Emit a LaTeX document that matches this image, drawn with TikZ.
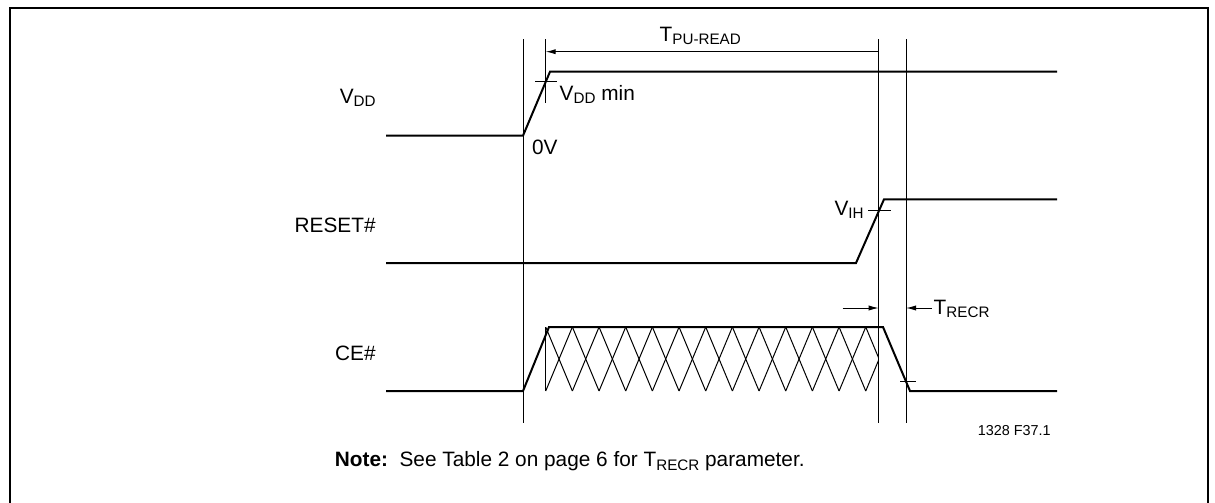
\documentclass[tikz,border=0pt]{standalone}
\usepackage{fontspec}
\setmainfont{Liberation Sans}
\usetikzlibrary{arrows.meta, calc, positioning}
\newcommand{\lowsub}[1]{\raisebox{-0.3ex}{\fontsize{7.6}{8}\selectfont #1}}

\begin{document}
\begin{tikzpicture}[x=0.5pt, y=-0.5pt,
    sig/.style={line width=1pt, line join=miter},
    guide/.style={line width=0.5pt},
    hatch/.style={line width=0.5pt},
    dim/.style={line width=0.5pt, -{Latex[length=5pt, width=2.6pt]}},
    lbl/.style={font=\fontsize{10.4}{12}\selectfont, inner sep=0pt}]
    \useasboundingbox (0,0) rectangle (1215,503);
    \draw[line width=1.2pt] (10,515) -- (10,8) -- (1208,8) -- (1208,515);

    % guides
    \coordinate (ga) at (523,39.3);    \coordinate (gaa) at (523,423);
    \coordinate (gb) at (545.7,39.3);  \coordinate (gbb) at (545.7,103);
    \coordinate (gc) at (878.7,39.3);  \coordinate (gcc) at (878.7,423);
    \coordinate (gd) at (906,39.3);    \coordinate (gdd) at (906,423);
    \draw[guide] (ga) -- (gaa);
    \draw[guide] (gb) -- (gbb);
    \draw[guide] (gc) -- (gcc);
    \draw[guide] (gd) -- (gdd);

    % signal names
    \node[lbl, anchor=base east] (vddname) at (376,103.3) {V\lowsub{DD}};
    \node[lbl, anchor=base east] (rstname) at (376,232.3) {RESET\#};
    \node[lbl, anchor=base east] (cename) at (376,360.5) {CE\#};

    % VDD
    \draw[sig] (386,135.7) -- (523,135.7) -- (550,71.7) -- (1057,71.7);
    \draw[guide] (535,81.7) -- (556.7,81.7);
    \node[lbl, anchor=base west] (vddmin) at (559.3,100.7) {V\lowsub{DD} min};
    \node[lbl, anchor=base west] (zerov) at (531.7,154) {0V};
    \draw[dim, {Latex[length=5pt, width=2.6pt]}-] (gb|-0,51.7) -- (gc|-0,51.7);
    \node[lbl, anchor=base west] (tpu) at (659.3,41.7) {T\lowsub{PU-READ}};

    % RESET#
    \draw[sig] (386,263) -- (856,263) -- (884,199.3) -- (1057,199.3);
    \draw[guide] (868,210) -- (890.7,210);
    \node[lbl, anchor=base east] (vih) at (864,215) {V\lowsub{IH}};

    % CE#
    \draw[sig] (386,391) -- (523,391) -- (549,327) -- (883,327) -- (910,391) -- (1057,391);
    \draw[guide] (900,381) -- (916,381);
    \draw[hatch] (545.7,327) -- (545.7,391);
    \begin{scope}
        \clip (545.7,327) rectangle (878.7,391);
        \foreach \k in {0,...,12} {
            \draw[hatch] (545.7+\k*26.67,391) -- (545.7+\k*26.67+26.67,327);
            \draw[hatch] (545.7+\k*26.67,327) -- (545.7+\k*26.67+26.67,391);
        }
    \end{scope}
    \draw[dim] (842.7,308) -- (gc|-0,308);
    \draw[dim] (931.7,308) -- (gd|-0,308);
    \node[lbl, anchor=base west] (trecr) at (933.3,314) {T\lowsub{RECR}};

    % footer
    \node[anchor=base east, inner sep=0pt, font=\fontsize{7.2}{8}\selectfont] (figid) at (1051,435) {1328 F37.1};
    \node[lbl, anchor=base west] (note) at (334.5,466.7) {\textbf{Note:}\ \ See Table 2 on page 6 for T\lowsub{RECR} parameter.};
\end{tikzpicture}
\end{document}
